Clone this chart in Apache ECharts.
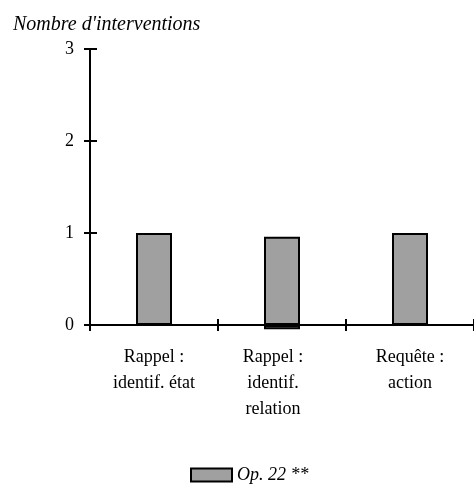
<!DOCTYPE html>
<html>
<head>
<meta charset="utf-8">
<script src="https://cdn.jsdelivr.net/npm/echarts@6/dist/echarts.min.js"></script>
<style>html,body{margin:0;padding:0;background:#fff}#c{width:474px;height:484px}</style>
</head>
<body>
<div id="c"></div>
<script>
const categories = ["Rappel :\nidentif. état", "Rappel :\nidentif.\nrelation", "Requête :\naction"];
const values = [1, 0.96, 1];
const belowAxis = [null, -0.045, null];
const seriesName = "Op. 22 **";
const yTitle = "Nombre d'interventions";
const yMin = 0, yMax = 3, yInterval = 1;

const font = "'Liberation Serif', 'Times New Roman', serif";
const chart = echarts.init(document.getElementById('c'), null, {renderer: 'canvas'});
const axisLine = {show: true, lineStyle: {color: '#000', width: 2}};
const catData = categories.map((c, i) => i === 1 ? {value: c, textStyle: {padding: [0, 18, 0, 0]}} : c);
const barStyle = {color: '#a0a0a0', borderColor: '#000', borderWidth: 2};
chart.setOption({
  animation: false,
  title: {text: yTitle, left: 8, top: 10, textStyle: {fontFamily: font, fontStyle: 'italic', fontWeight: 'normal', fontSize: 20, color: '#000'}},
  grid: {left: 90, right: 0, top: 49, bottom: 159, containLabel: false},
  legend: {
    data: [seriesName], left: 185, top: 461, icon: 'rect', itemWidth: 41, itemHeight: 13, itemGap: 4,
    textStyle: {fontFamily: font, fontStyle: 'italic', fontSize: 18, color: '#000'}
  },
  xAxis: [
    {type: 'category', data: catData, position: 'bottom', axisLine: axisLine,
     axisTick: {show: true, length: 6, lineStyle: {color: '#000', width: 2}},
     axisLabel: {fontFamily: font, fontSize: 18, color: '#000', lineHeight: 26, margin: 19, interval: 0}},
    {type: 'category', data: categories, position: 'bottom', axisLine: {show: false},
     axisTick: {show: true, inside: true, length: 6, lineStyle: {color: '#000', width: 2}},
     axisLabel: {show: false}}
  ],
  yAxis: [
    {type: 'value', min: yMin, max: yMax, interval: yInterval, position: 'left', axisLine: axisLine,
     splitLine: {show: false},
     axisTick: {show: true, length: 6, lineStyle: {color: '#000', width: 2}},
     axisLabel: {fontFamily: font, fontSize: 18, color: '#000', margin: 16}},
    {type: 'value', min: yMin, max: yMax, interval: yInterval, position: 'left', axisLine: {show: false},
     splitLine: {show: false},
     axisTick: {show: true, inside: true, length: 7, lineStyle: {color: '#000', width: 2}},
     axisLabel: {show: false}}
  ],
  series: [
    {name: seriesName, type: 'bar', stack: 'a', data: values, barWidth: 36, clip: false, z: 1,
     itemStyle: barStyle},
    {name: 'below', type: 'bar', stack: 'a', data: belowAxis, barWidth: 36, clip: false, z: 1,
     itemStyle: barStyle}
  ]
});
</script>
</body>
</html>
